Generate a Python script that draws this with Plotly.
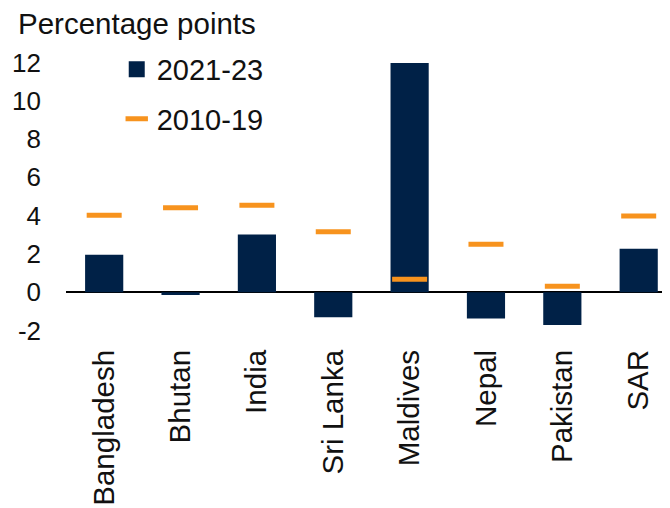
import plotly.graph_objects as go

countries = ["Bangladesh", "Bhutan", "India", "Sri Lanka", "Maldives", "Nepal", "Pakistan", "SAR"]
growth_2021_23 = [1.95, -0.15, 3.02, -1.31, 11.98, -1.38, -1.72, 2.27]
growth_2010_19 = [4.02, 4.41, 4.54, 3.16, 0.68, 2.50, 0.31, 3.98]
y_ticks = [-2, 0, 2, 4, 6, 8, 10, 12]
y_tick_labels = ["-2", "0", "2", "4", "6", "8", "10", "12"]

NAVY = "#002147"
ORANGE = "#F7931E"
FONT = "Liberation Sans, Arial, sans-serif"

fig = go.Figure()
fig.add_trace(go.Bar(
    x=countries, y=growth_2021_23, name="2021-23",
    marker=dict(color=NAVY, line=dict(width=0)),
    width=0.5, showlegend=False, legendgroup="a",
))
# legend proxy for the bars (bigger square symbol)
fig.add_trace(go.Scatter(
    x=[None], y=[None], mode="markers", name="2021-23",
    marker=dict(symbol="square", size=16, color=NAVY),
    legendgroup="a",
))
fig.add_trace(go.Scatter(
    x=countries, y=growth_2010_19, mode="markers", name="2010-19",
    marker=dict(symbol="line-ew", size=25, line=dict(color=ORANGE, width=5)),
    legendgroup="b",
))

# page body adds an 8px margin, so the figure is 662x500
fig.update_layout(
    width=662, height=500,
    margin=dict(l=58, r=0, t=45, b=168, autoexpand=False),
    plot_bgcolor="white", paper_bgcolor="white",
    font=dict(family=FONT, size=26, color="#111111"),
    title=dict(text="Percentage points", xref="container", yref="container",
               x=10/662, xanchor="left", y=1-16/500, yanchor="middle",
               font=dict(family=FONT, size=29.5, color="#111111")),
    showlegend=True,
    legend=dict(x=0.084, y=1.032, xanchor="left", yanchor="top",
                bgcolor="rgba(0,0,0,0)", font=dict(size=29),
                traceorder="grouped", tracegroupgap=9, itemsizing="trace"),
    bargap=0.5,
)
fig.update_xaxes(
    type="category", range=[-0.5, 7.41], tickangle=-90,
    showline=False, showgrid=False, zeroline=False, ticks="",
    tickfont=dict(family=FONT, size=29.5), automargin=False,
    ticklabelstandoff=3,
)
fig.update_yaxes(
    range=[-2.5, 12.5], tickvals=y_ticks, ticktext=y_tick_labels, showgrid=False,
    zeroline=True, zerolinecolor="black", zerolinewidth=1.5,
    showline=False, ticks="", ticklabelstandoff=24, automargin=False,
    tickfont=dict(family=FONT, size=26),
)
fig.write_html("out.html")
